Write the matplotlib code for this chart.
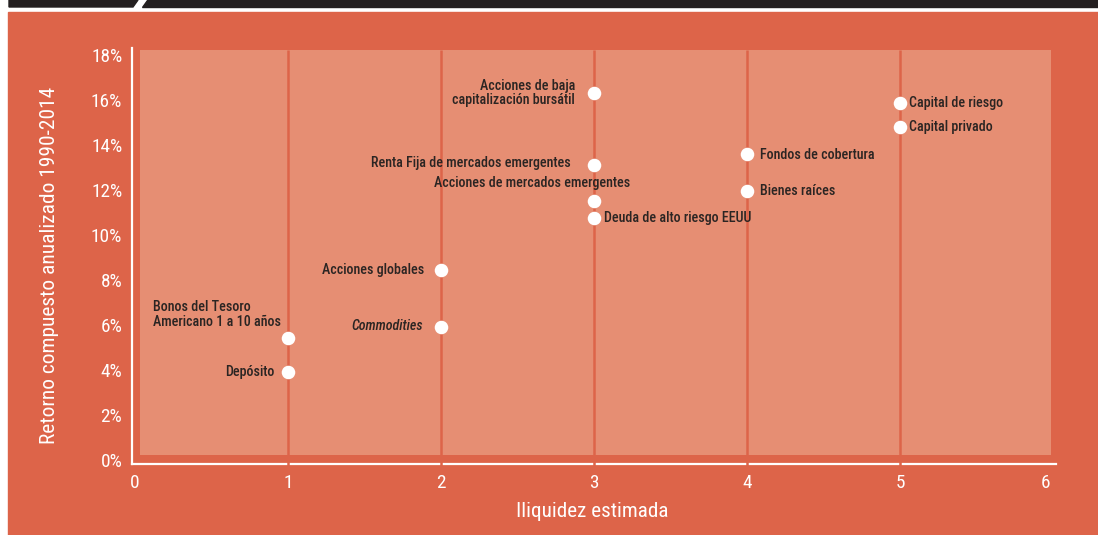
import matplotlib
matplotlib.use("Agg")
import matplotlib.pyplot as plt
import matplotlib.font_manager as fm
from matplotlib.patches import Rectangle, Polygon
from matplotlib import rcParams

# pick the narrowest sans available
avail = {(f.name, f.stretch) for f in fm.fontManager.ttflist}
family, stretch = "Roboto", "normal"
for fam in ["Liberation Sans Narrow", "Roboto Condensed", "Open Sans Condensed"]:
    if any(n == fam for n, _ in avail):
        family = fam
        break
else:
    if ("DejaVu Sans", "condensed") in avail or ("DejaVu Sans", "semi-condensed") in avail:
        family, stretch = "DejaVu Sans", "condensed"

rcParams.update({
    "font.family": [family, "DejaVu Sans"],
    "font.stretch": stretch,
    "font.size": 10.5,
})

names = ["Acciones de baja\ncapitalización bursátil",
         "Renta Fija de mercados emergentes",
         "Acciones de mercados emergentes",
         "Deuda de alto riesgo EEUU",
         "Acciones globales",
         "Commodities",
         "Bonos del Tesoro\nAmericano 1 a 10 años",
         "Depósito",
         "Fondos de cobertura",
         "Bienes raíces",
         "Capital de riesgo",
         "Capital privado"]
iliquidez = [3, 3, 3, 3, 2, 2, 1, 1, 4, 4, 5, 5]
retorno = [16.3, 13.1, 11.5, 10.75, 8.45, 5.9, 5.4, 3.9, 13.6, 11.95, 15.85, 14.8]
xticks = [0, 1, 2, 3, 4, 5, 6]
yticks = [0, 2, 4, 6, 8, 10, 12, 14, 16, 18]

FRAME = "#dd6449"
LIGHT = "#e68e73"
DARK = "#231f20"
TXT = "#2b2523"

W, H = 1098, 535
fig = plt.figure(figsize=(W / 100, H / 100), dpi=100, facecolor="white")

# scale font sizes so "Renta Fija..." is ~200 px wide like the reference
probe = fig.text(0, 0, names[1], fontsize=10.5)
wpx = probe.get_window_extent(renderer=fig.canvas.get_renderer()).width
probe.remove()
k = min(1.15, 200 / wpx)
fs_lab, fs_tick, fs_x, fs_y = 10.5 * k, 14.4 * k, 15.8 * k, 16 * k

# outer orange frame and the black strip on top (pixel coords)
def px(x, y):
    return (x / W, 1 - y / H)

fig.patches.append(Rectangle(px(8, 535), (W - 8) / W, (535 - 12) / H,
                             transform=fig.transFigure, color=FRAME, zorder=-10))
fig.patches.append(Polygon([px(9, 0), px(138, 0), px(133, 7), px(9, 7)],
                           transform=fig.transFigure, color=DARK, zorder=-10))
fig.patches.append(Polygon([px(147, 0), px(W, 0), px(W, 7), px(142, 7)],
                           transform=fig.transFigure, color=DARK, zorder=-10))

ax = fig.add_axes([132 / W, (H - 464) / H, (1056 - 132) / W, (464 - 48) / H])
ax.set_facecolor("none")
ax.set_xlim(-0.02, 6.02)
ax.set_ylim(-0.18, 18.31)

ax.add_patch(Rectangle((0.03, 0.22), 5.96, 17.98, color=LIGHT, zorder=1, lw=0))
ax.vlines([1, 2, 3, 4, 5], -0.35, 18.2, color=FRAME, lw=1.8, zorder=3, clip_on=False)

for s in ["top", "right"]:
    ax.spines[s].set_visible(False)
for s in ["left", "bottom"]:
    ax.spines[s].set_color("white")
    ax.spines[s].set_linewidth(1.6)

ax.set_xticks(xticks[:-1] + [5.95])
ax.set_xticklabels([str(t) for t in xticks])
ax.set_yticks(yticks)
ax.set_yticklabels([f"{t}%" for t in yticks])
ax.tick_params(length=0, colors="white", labelsize=fs_tick, pad=7)
ax.tick_params(axis="x", pad=7)

ax.scatter(iliquidez, retorno, s=95, color="white", zorder=4, lw=0)

# label offsets in pixels: (dx, dy, ha)
offsets = [(-19, 0, "right"), (-23, 2, "right"), (36, 18, "right"),
           (10, 0, "left"), (-17, 0, "right"), (-18, 1, "right"),
           (-7, 24, "right"), (-14, 0, "right"), (13, -1, "left"),
           (13, 0, "left"), (9, 0, "left"), (9, 0, "left")]

for i, name in enumerate(names):
    dx, dy, ha = offsets[i]
    style = "italic" if name == "Commodities" else "normal"
    ma = "left" if name.startswith("Bonos") else ha
    ax.annotate(name, (iliquidez[i], retorno[i]), xytext=(dx * 0.72, dy * 0.72),
                textcoords="offset points", ha=ha, va="center", ma=ma,
                color=TXT, fontsize=fs_lab, style=style, weight="medium",
                linespacing=1.05, zorder=5)

ax.set_xlabel("Iliquidez estimada", color="white", fontsize=fs_x)
ax.set_ylabel("Retorno compuesto anualizado 1990-2014", color="white", fontsize=fs_y)
ax.xaxis.set_label_coords(0.498, -0.092)
ax.yaxis.set_label_coords(-0.079, 0.478)

fig.savefig("out.png", dpi=100, facecolor="white")
